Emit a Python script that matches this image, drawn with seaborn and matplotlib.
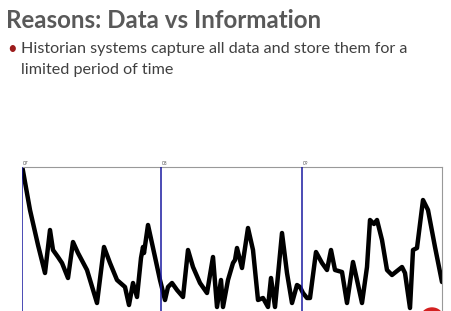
import matplotlib
matplotlib.use("Agg")
import matplotlib.pyplot as plt
import seaborn as sns
import pandas as pd
from matplotlib.patches import Ellipse

# time (hours-like units across three days) and value
t = [22.3, 30, 38, 45, 50, 53, 58, 62, 68, 73, 78, 87, 97, 104, 110, 117, 125, 129, 133, 137,
     141, 143, 144, 148, 155, 160, 165, 168, 172, 177, 183, 188, 193, 200, 207, 213, 217, 221,
     223, 228, 233, 235, 237, 242, 248, 253, 258, 263, 268, 271, 275, 282, 287, 292, 297,
     300, 303, 307, 310, 316, 322, 327, 331, 335, 342, 347, 353, 357, 362, 367, 370,
     374, 377, 382, 387, 392, 402, 405, 410, 413, 417, 423, 428, 435, 439, 442]
y_px = [167, 210, 245, 273, 230, 250, 257, 263, 278, 242, 253, 270, 303, 247, 263, 280, 287, 305,
        283, 297, 258, 247, 253, 225, 257, 280, 300, 287, 283, 290, 297, 250, 267, 283, 293, 257,
        307, 280, 307, 280, 263, 260, 248, 268, 228, 250, 300, 298, 307, 278, 307, 233, 273,
        303, 285, 287, 293, 298, 298, 252, 263, 270, 250, 270, 272, 303, 262, 280, 303,
        267, 220, 224, 220, 240, 270, 275, 267, 273, 308, 250, 248, 200, 210, 247, 267, 282]
value = [311 - v for v in y_px]

day_pos = [22, 161, 302]
day_labels = ["07", "08", "09"]

df = pd.DataFrame({"t": t, "value": value})

W, H = 452, 311
fig = plt.figure(figsize=(W / 100, H / 100), dpi=100)
sns.set_style("white")
plt.rcParams['font.family'] = ['Lato', 'DejaVu Sans']

fig.text(6 / W, 1 - 20 / H, "Reasons: Data vs Information", fontsize=17.4, fontweight="bold",
         color="#595959", va="center", ha="left")
fig.text(7 / W, 1 - 49 / H, "\u2022", fontsize=12, color="#9c1c1c", va="center", ha="left")
fig.text(21 / W, 1 - 49 / H, "Historian systems capture all data and store them for a",
         fontsize=11.6, color="#404040", va="center", ha="left")
fig.text(21 / W, 1 - 70 / H, "limited period of time",
         fontsize=11.6, color="#404040", va="center", ha="left")

bottom_px = 330
ax = fig.add_axes([22 / W, 1 - bottom_px / H, (442 - 22) / W, (bottom_px - 167) / H])
sns.lineplot(data=df, x="t", y="value", ax=ax, color="black", linewidth=3.2)
ax.set_xlim(22, 442)
ax.set_ylim(311 - bottom_px, 311 - 167)
for p, lab in zip(day_pos, day_labels):
    ax.axvline(p, color="#1a1aa0", linewidth=1.1, zorder=3)
    ax.text(p + 1, 311 - 167 + 1.5, lab, fontsize=3.5, color="#555555", ha="left", va="bottom")
ax.set_xticks([])
ax.set_yticks([])
ax.set_xlabel("")
ax.set_ylabel("")
for s in ["top", "right"]:
    ax.spines[s].set_color("#999999")
    ax.spines[s].set_linewidth(0.8)
ax.spines["left"].set_visible(False)
ax.spines["bottom"].set_visible(False)

fig.patches.append(Ellipse((432 / W, 1 - 318 / H), 22 / W, 20 / H, transform=fig.transFigure,
                           color="#d42020", zorder=5))

fig.savefig("out.png", dpi=100)
